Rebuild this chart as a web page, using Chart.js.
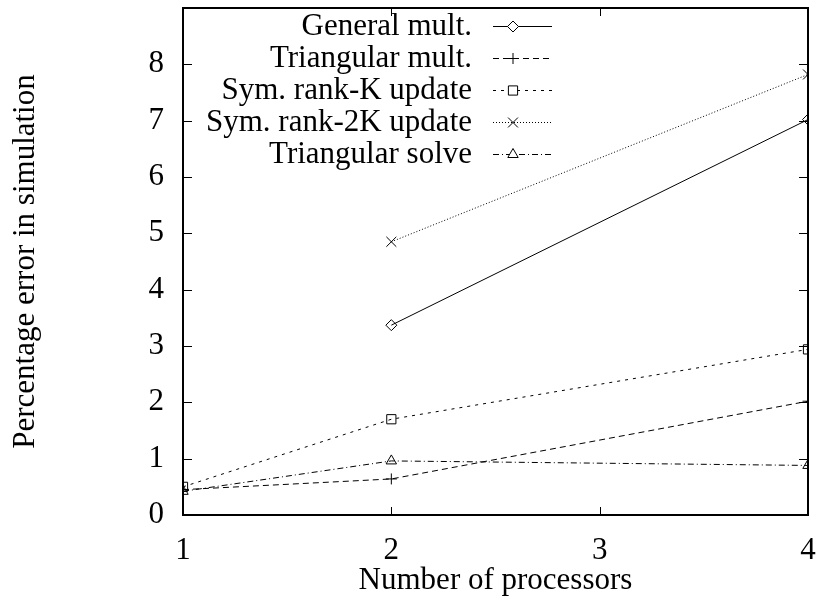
<!DOCTYPE html>
<html>
<head>
<meta charset="utf-8">
<script src="https://cdn.jsdelivr.net/npm/chart.js@4/dist/chart.umd.min.js"></script>
<style>
html,body{margin:0;padding:0;background:#fff;}
#wrap{width:817px;height:599px;position:relative;}
</style>
</head>
<body>
<div id="wrap"><canvas id="c"></canvas></div>
<script>
const processors = [1, 2, 4];
const seriesNames = ["General mult.", "Triangular mult.", "Sym. rank-K update", "Sym. rank-2K update", "Triangular solve"];
const generalMult = [null, 3.37, 7.02];
const triangularMult = [0.45, 0.64, 2.02];
const symRankK = [0.50, 1.70, 2.94];
const symRank2K = [null, 4.85, 7.82];
const triangularSolve = [0.42, 0.96, 0.88];
const xTicks = [1, 2, 3, 4];
const yTicks = [0, 1, 2, 3, 4, 5, 6, 7, 8];
const xTitle = "Number of processors";
const yTitle = "Percentage error in simulation";

const FONT = '"Liberation Serif", "Times New Roman", serif';
const FS = 31;

const styles = [
  {dash: [], point: 'rectRot', r: 5.5},
  {dash: [6, 4], point: 'cross', r: 5.5},
  {dash: [3, 5], point: 'rect', r: 6.5},
  {dash: [1, 2], point: 'crossRot', r: 7},
  {dash: [6, 3, 1, 3], point: 'triangle', r: 6}
];
const values = [generalMult, triangularMult, symRankK, symRank2K, triangularSolve];

const datasets = values.map((vals, i) => ({
  label: seriesNames[i],
  data: processors.map((x, j) => ({x: x, y: vals[j]})),
  borderColor: '#000',
  backgroundColor: '#fff',
  borderWidth: 1,
  borderDash: styles[i].dash,
  pointStyle: styles[i].point,
  pointRadius: styles[i].r,
  pointBorderWidth: 1,
  pointBorderColor: '#000',
  pointBackgroundColor: 'rgba(255,255,255,0)',
  spanGaps: false,
  tension: 0,
  fill: false
}));

const framePlugin = {
  id: 'frame',
  afterDatasetsDraw(chart) {
    const ctx = chart.ctx, ca = chart.chartArea;
    const xs = chart.scales.x, ys = chart.scales.y;
    ctx.save();
    ctx.strokeStyle = '#000';
    ctx.lineWidth = 1;
    ctx.beginPath();
    yTicks.forEach(v => {
      const y = Math.round(ys.getPixelForValue(v)) + 0.5;
      ctx.moveTo(ca.left, y); ctx.lineTo(ca.left + 9, y);
      ctx.moveTo(ca.right, y); ctx.lineTo(ca.right - 9, y);
    });
    xTicks.forEach(v => {
      const x = Math.round(xs.getPixelForValue(v)) + 0.5;
      ctx.moveTo(x, ca.bottom); ctx.lineTo(x, ca.bottom - 8);
      ctx.moveTo(x, ca.top); ctx.lineTo(x, ca.top + 8);
    });
    ctx.stroke();
    ctx.lineWidth = 2;
    ctx.strokeRect(ca.left, ca.top, ca.right - ca.left, ca.bottom - ca.top);

    ctx.font = FS + 'px ' + FONT;
    ctx.fillStyle = '#000';
    ctx.textAlign = 'right';
    ctx.textBaseline = 'middle';
    chart.data.datasets.forEach((ds, i) => {
      const y = ca.top + 18 + i * 32;
      ctx.fillText(ds.label, ca.left + 289, y + 1);
      ctx.save();
      ctx.lineWidth = 1;
      ctx.setLineDash(ds.borderDash);
      ctx.beginPath();
      ctx.moveTo(ca.left + 310, y + 0.5);
      ctx.lineTo(ca.left + 369, y + 0.5);
      ctx.stroke();
      ctx.restore();
      ctx.save();
      ctx.strokeStyle = '#000';
      ctx.fillStyle = '#fff';
      ctx.lineWidth = 1;
      Chart.helpers.drawPoint(ctx, {pointStyle: ds.pointStyle, radius: ds.pointRadius, borderWidth: 1, rotation: 0}, ca.left + 330, y + 0.5);
      ctx.restore();
    });
    ctx.restore();
  }
};

function zeroPad(s) { s.paddingTop = 0; s.paddingBottom = 0; s.paddingLeft = 0; s.paddingRight = 0; }

new Chart(document.getElementById('c'), {
  type: 'line',
  data: {datasets: datasets},
  options: {
    responsive: true,
    maintainAspectRatio: false,
    animation: false,
    layout: {padding: {top: 7, right: 9, left: 0, bottom: 0}},
    plugins: {legend: {display: false}, tooltip: {enabled: false}},
    scales: {
      x: {
        type: 'linear', min: 1, max: 4,
        afterBuildTicks: s => { s.ticks = xTicks.map(v => ({value: v})); },
        afterFit: s => { s.height = 84; zeroPad(s); },
        grid: {display: false, drawTicks: false},
        border: {display: false},
        ticks: {color: '#000', font: {family: FONT, size: FS}, padding: 17, maxRotation: 0},
        title: {display: true, text: xTitle, color: '#000', font: {family: FONT, size: FS}, padding: {top: 0, bottom: 0}}
      },
      y: {
        type: 'linear', min: 0, max: 9,
        afterBuildTicks: s => { s.ticks = yTicks.map(v => ({value: v})); },
        afterFit: s => { s.width = 183; zeroPad(s); },
        grid: {display: false, drawTicks: false},
        border: {display: false},
        ticks: {color: '#000', font: {family: FONT, size: FS}, padding: 19},
        title: {display: true, text: yTitle, color: '#000', font: {family: FONT, size: FS}, padding: {top: 7, bottom: 0}}
      }
    }
  },
  plugins: [framePlugin]
});
</script>
</body>
</html>
